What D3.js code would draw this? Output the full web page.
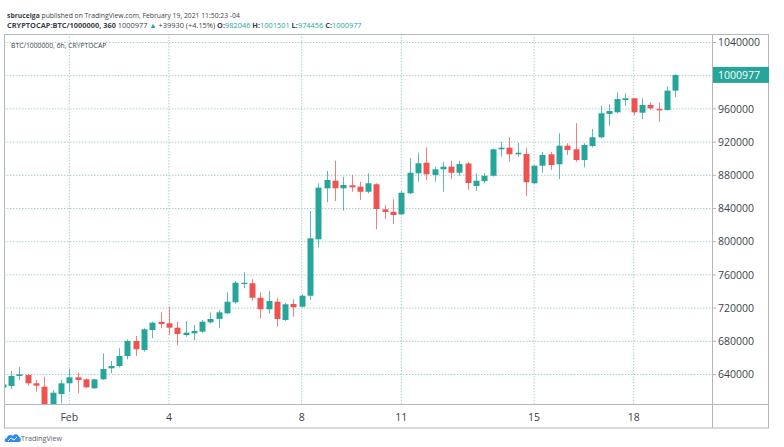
<!DOCTYPE html>
<html>
<head>
<meta charset="utf-8">
<script src="https://cdn.jsdelivr.net/npm/d3@7"></script>
<style>
  html, body { margin: 0; padding: 0; background: #fff; }
  svg { display: block; font-family: "Open Sans", "Noto Sans", sans-serif; }
</style>
</head>
<body>
<svg id="chart" width="784" height="447"></svg>
<script>
// 6h candles, first one opens Jan 30 00:00 UTC
const barStart = Date.UTC(2021, 0, 30);
const barHours = 6;

const opens = [
  624300, 626200, 638200, 639400, 629400, 625300, 601500, 616500,
  629400, 636600, 634200, 623400, 634200, 647500, 650200, 662300, 680400, 669500, 693600, 703300,
  701700, 696400, 687600, 689600, 691600, 702900, 706900, 713700, 727000, 749000, 749900, 732500,
  718600, 727700, 705700, 724900, 721700, 734900, 802900, 864300, 873500, 864300, 868000, 866300,
  860200, 869200, 839000, 836100, 833000, 858300, 882400, 895200, 880400, 887200, 890400, 883100,
  894200, 867100, 873100, 879500, 911300, 913300, 905300, 905700, 870400, 891600, 905300, 893300,
  915700, 911300, 898400, 915300, 925800, 953900, 955900, 970700, 972800, 955400, 964700, 959900,
  958700, 982046
];
const highs = [
  631000, 644200, 649000, 640600, 633400, 637400, 621300, 633400,
  647000, 642200, 635400, 634900, 665500, 656300, 671600, 682400, 686400, 695700, 703600, 714900,
  721700, 703600, 704500, 699600, 705700, 714900, 717700, 739000, 752700, 763100, 754700, 739000,
  740600, 732500, 726200, 730600, 736600, 837000, 870400, 885200, 897600, 878300, 880400, 872300,
  882400, 870400, 844200, 851100, 861100, 900500, 907200, 913700, 890400, 896400, 897600, 897600,
  896000, 882400, 882400, 912500, 920500, 925800, 919300, 913300, 892400, 908400, 908400, 930600,
  918600, 942700, 918600, 935800, 963900, 965500, 980000, 978800, 973000, 972800, 967500, 967500,
  986700, 1001501
];
const lows = [
  621300, 622500, 633400, 626500, 619300, 598000, 599000, 605300,
  619300, 617400, 623400, 622500, 633400, 641500, 648700, 658300, 662300, 667500, 683600, 695700,
  687600, 675500, 685500, 681600, 690400, 701700, 695700, 712900, 725500, 743900, 728900, 707700,
  713700, 697600, 704500, 709600, 721000, 729800, 792800, 847500, 849000, 837400, 860200, 850200,
  858300, 814900, 827000, 821300, 832200, 857500, 872300, 874300, 872300, 860200, 875200, 879500,
  862300, 861100, 870400, 878300, 902400, 896400, 902400, 855100, 869500, 883100, 886400, 875500,
  904500, 896400, 889600, 913700, 924600, 939800, 954700, 963900, 952700, 947500, 958700, 944600,
  957800, 974456
];
const closes = [
  628000, 638200, 640200, 629400, 626500, 601000, 618100, 629400,
  636600, 633400, 624600, 634200, 646600, 650200, 662300, 680400, 670400, 694500, 702400, 700800,
  696400, 688800, 690400, 692400, 703600, 706900, 714900, 727700, 750600, 750600, 732500, 718600,
  728600, 706900, 724600, 721000, 734900, 804100, 865100, 874300, 864300, 868300, 865500, 860200,
  870400, 839400, 835800, 832200, 859000, 883100, 894500, 881200, 887200, 890400, 883100, 893600,
  870700, 873500, 879500, 911300, 913300, 905300, 907200, 871600, 891600, 904500, 892400, 915700,
  910500, 898400, 916500, 925800, 954700, 957500, 971900, 972800, 955900, 964700, 960700, 958300,
  982046, 1000977
];

const priceTicks = [640000, 680000, 720000, 760000, 800000, 840000, 880000, 920000, 960000, 1000000, 1040000];
const dayTicks = [
  { date: Date.UTC(2021, 1, 1), label: "Feb" },
  { date: Date.UTC(2021, 1, 4), label: "4" },
  { date: Date.UTC(2021, 1, 8), label: "8" },
  { date: Date.UTC(2021, 1, 11), label: "11" },
  { date: Date.UTC(2021, 1, 15), label: "15" },
  { date: Date.UTC(2021, 1, 18), label: "18" }
];
const lastPrice = 1000977;

const up = "#26a69a";
const down = "#ef5350";
const gridColor = "#a9d0cc";
const frameColor = "#b4b6bb";
const textColor = "#3b3f4a";

const candles = opens.map((o, i) => ({
  t: new Date(barStart + i * barHours * 3600 * 1000),
  o, h: highs[i], l: lows[i], c: closes[i]
}));

const plot = { left: 4, right: 712, top: 34, bottom: 404 };

const svg = d3.select("#chart");

const x = d3.scaleUtc()
  .domain([new Date(Date.UTC(2021, 1, 1)), new Date(Date.UTC(2021, 1, 18))])
  .range([69.3, 633.7]);

const y = d3.scaleLinear()
  .domain([640000, 1040000])
  .range([374.5, 42.5]);

// header
const head1 = svg.append("text").attr("x", 7).attr("y", 18)
  .attr("font-size", 6.8).attr("fill", textColor);
head1.append("tspan").attr("font-weight", "bold").text("sbrucelga");
head1.append("tspan").text(" published on TradingView.com, February 19, 2021 11:50:23 -04");

const head2 = svg.append("text").attr("x", 7).attr("y", 27.5)
  .attr("font-size", 7.4).attr("fill", textColor);
head2.append("tspan").attr("font-weight", "bold").text("CRYPTOCAP:BTC/1000000, 360");
head2.append("tspan").text("  1000977 ");
head2.append("tspan").attr("fill", up).text("▲");
head2.append("tspan").text(" +39930 (+4.15%) ");
[["O:", "982046"], ["H:", "1001501"], ["L:", "974456"], ["C:", "1000977"]].forEach(([k, v]) => {
  head2.append("tspan").attr("font-weight", "bold").text(k);
  head2.append("tspan").attr("fill", up).text(v + " ");
});

// grid
const grid = svg.append("g");
grid.selectAll("line.h").data(priceTicks).join("line")
  .attr("x1", plot.left).attr("x2", plot.right)
  .attr("y1", d => y(d)).attr("y2", d => y(d))
  .attr("stroke", gridColor).attr("stroke-dasharray", "1.5,1.5");
grid.selectAll("line.v").data(dayTicks).join("line")
  .attr("x1", d => x(d.date)).attr("x2", d => x(d.date))
  .attr("y1", plot.top).attr("y2", plot.bottom)
  .attr("stroke", gridColor).attr("stroke-dasharray", "1.5,1.5");

svg.append("text").attr("x", 11).attr("y", 48)
  .attr("font-size", 6.8).attr("fill", textColor)
  .text("BTC/1000000, 6h, CRYPTOCAP");

// candles
svg.append("clipPath").attr("id", "plotClip")
  .append("rect").attr("x", plot.left).attr("y", plot.top)
  .attr("width", plot.right - plot.left).attr("height", plot.bottom - plot.top);

const barW = (x(new Date(barStart + barHours * 3600 * 1000)) - x(new Date(barStart))) * 0.72;
const cg = svg.append("g").attr("clip-path", "url(#plotClip)");
const candle = cg.selectAll("g").data(candles).join("g");
candle.append("line")
  .attr("x1", d => Math.round(x(d.t)) + 0.5).attr("x2", d => Math.round(x(d.t)) + 0.5)
  .attr("y1", d => y(d.h)).attr("y2", d => y(d.l))
  .attr("stroke", d => d.c >= d.o ? up : down).attr("stroke-width", 1)
  .attr("stroke-opacity", 0.75);
candle.append("rect")
  .attr("x", d => Math.round(x(d.t)) + 0.5 - barW / 2)
  .attr("width", barW)
  .attr("y", d => y(Math.max(d.o, d.c)))
  .attr("height", d => Math.max(1, Math.abs(y(d.o) - y(d.c))))
  .attr("fill", d => d.c >= d.o ? up : down);

// frame
svg.append("rect").attr("x", 4.5).attr("y", 34.5).attr("width", 764).attr("height", 393.5)
  .attr("fill", "none").attr("stroke", frameColor);
svg.append("line").attr("x1", plot.right + 0.5).attr("x2", plot.right + 0.5)
  .attr("y1", 34).attr("y2", 428).attr("stroke", frameColor);
svg.append("line").attr("x1", 4).attr("x2", 769)
  .attr("y1", plot.bottom + 0.5).attr("y2", plot.bottom + 0.5).attr("stroke", frameColor);

// price axis
const yAxis = svg.append("g");
yAxis.selectAll("line").data(priceTicks).join("line")
  .attr("x1", plot.right).attr("x2", plot.right + 4)
  .attr("y1", d => y(d)).attr("y2", d => y(d)).attr("stroke", frameColor);
yAxis.selectAll("text").data(priceTicks).join("text")
  .attr("x", 718).attr("y", d => y(d)).attr("dy", "0.35em")
  .attr("font-size", 10.5).attr("fill", textColor)
  .text(d => d);

// last price tag
const tagY = y(lastPrice);
svg.append("rect").attr("x", plot.right + 1).attr("y", tagY - 8)
  .attr("width", 56).attr("height", 16).attr("fill", up);
svg.append("text").attr("x", 718).attr("y", tagY).attr("dy", "0.35em")
  .attr("font-size", 10.5).attr("fill", "#fff").text(lastPrice);

// time axis
svg.append("g").selectAll("text").data(dayTicks).join("text")
  .attr("x", d => x(d.date)).attr("y", 421)
  .attr("text-anchor", "middle").attr("font-size", 10.5).attr("fill", textColor)
  .text(d => d.label);

// footer logo
const logo = svg.append("g").attr("transform", "translate(5,433)");
logo.append("path")
  .attr("d", "M1,9 C-1,9 -1,5 2,5 C2,2 6,1 8,3 C9,0 14,1 14,4 C16,4 17,9 14,9 Z")
  .attr("fill", "#2d8cf0");
logo.append("polyline").attr("points", "3,8 6,5 9,7 12,4")
  .attr("fill", "none").attr("stroke", "#fff").attr("stroke-width", 1);
svg.append("text").attr("x", 21).attr("y", 441)
  .attr("font-size", 7.2).attr("fill", "#5d606b").text("TradingView");
</script>
</body>
</html>
